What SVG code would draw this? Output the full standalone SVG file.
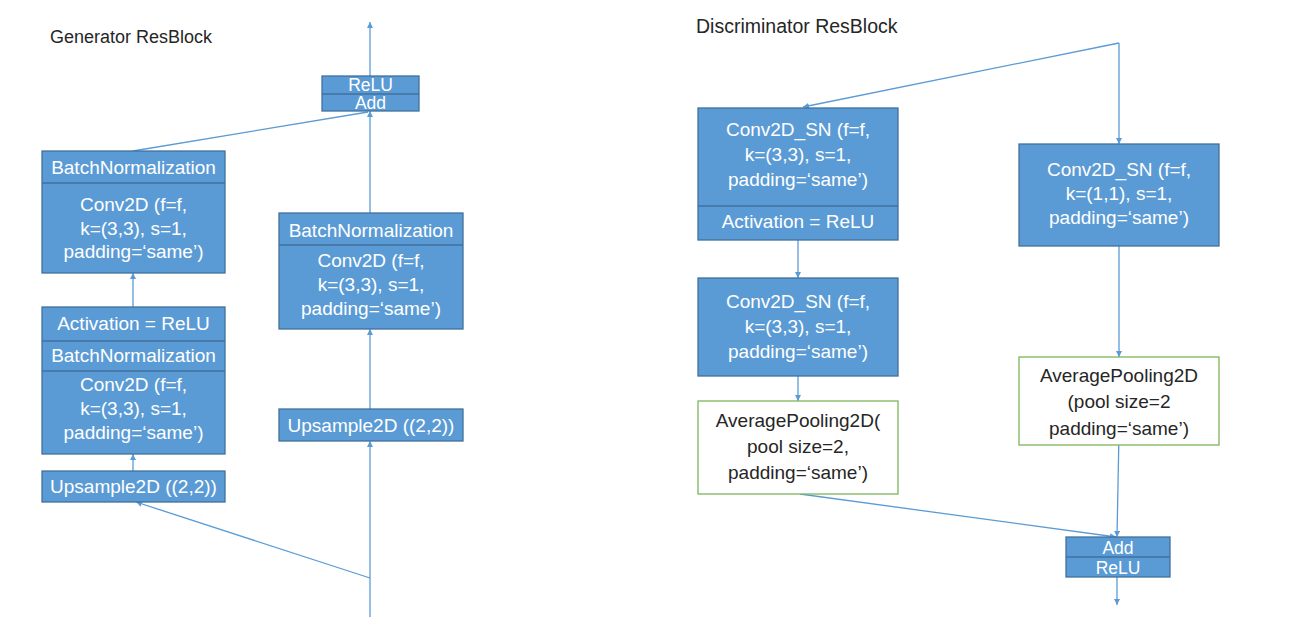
<svg xmlns="http://www.w3.org/2000/svg" width="1296" height="636" viewBox="0 0 1296 636">
<style>
  .box { fill: #5B9BD5; stroke: #41719C; stroke-width: 1.3; }
  .pool { fill: #FFFFFF; stroke: #7DB65A; stroke-width: 1.3; }
  .div { stroke: #41719C; stroke-width: 1.3; }
  .t { font-family: "Liberation Sans", Arial, sans-serif; font-size: 19px; fill: #FFFFFF; text-anchor: middle; }
  .s { font-family: "Liberation Sans", Arial, sans-serif; font-size: 17.5px; fill: #FFFFFF; text-anchor: middle; }
  .d { font-family: "Liberation Sans", Arial, sans-serif; font-size: 19px; fill: #262626; text-anchor: middle; }
  .title { font-family: "Liberation Sans", Arial, sans-serif; font-size: 18px; fill: #262626; }
  .c { stroke: #5B9BD5; stroke-width: 1.3; fill: none; }
  .ca { stroke: #5B9BD5; stroke-width: 1.3; fill: none; marker-end: url(#ah); }
</style>
<defs>
  <marker id="ah" markerUnits="userSpaceOnUse" markerWidth="7" markerHeight="7" refX="6" refY="3" orient="auto">
    <path d="M0,0 L6,3 L0,6 z" fill="#5B9BD5"/>
  </marker>
</defs>
<rect width="1296" height="636" fill="#FFFFFF"/>

<text class="title" x="50" y="43">Generator ResBlock</text>
<text class="title" x="696" y="33" style="font-size:19.5px">Discriminator ResBlock</text>

<g id="connectors">
  <line class="ca" x1="370" y1="76" x2="370" y2="22"/>
  <line class="ca" x1="370" y1="213" x2="370" y2="111"/>
  <line class="c" x1="133" y1="151" x2="368" y2="112"/>
  <line class="ca" x1="133" y1="307" x2="133" y2="273"/>
  <line class="ca" x1="133" y1="471" x2="133" y2="454"/>
  <line class="ca" x1="370" y1="409" x2="370" y2="329"/>
  <line class="ca" x1="370" y1="617" x2="370" y2="441"/>
  <line class="ca" x1="370" y1="578" x2="136" y2="502"/>

  <line class="ca" x1="1119" y1="43" x2="803" y2="107"/>
  <line class="ca" x1="1119" y1="43" x2="1119" y2="144"/>
  <line class="ca" x1="798" y1="240" x2="798" y2="278"/>
  <line class="ca" x1="798" y1="376" x2="798" y2="401"/>
  <line class="ca" x1="1119" y1="246" x2="1119" y2="357"/>
  <line class="ca" x1="800" y1="494" x2="1116" y2="537"/>
  <line class="ca" x1="1119" y1="432" x2="1117" y2="537"/>
  <line class="ca" x1="1117" y1="577" x2="1117" y2="605"/>
</g>

<g id="g-relu-add">
  <rect class="box" x="322" y="76" width="97" height="35"/>
  <line class="div" x1="322" y1="94" x2="419" y2="94"/>
  <text class="s" x="370.5" y="91">ReLU</text>
  <text class="s" x="370.5" y="109">Add</text>
</g>

<g id="g-bn-conv-left">
  <rect class="box" x="42" y="151" width="183" height="122"/>
  <line class="div" x1="42" y1="183" x2="225" y2="183"/>
  <text class="t" x="133.5" y="174">BatchNormalization</text>
  <text class="t" x="133.5" y="211">Conv2D (f=f,</text>
  <text class="t" x="133.5" y="235">k=(3,3), s=1,</text>
  <text class="t" x="133.5" y="258">padding=‘same’)</text>
</g>

<g id="g-act-bn-conv">
  <rect class="box" x="42" y="307" width="183" height="147"/>
  <line class="div" x1="42" y1="341" x2="225" y2="341"/>
  <line class="div" x1="42" y1="371" x2="225" y2="371"/>
  <text class="t" x="133.5" y="330">Activation = ReLU</text>
  <text class="t" x="133.5" y="362">BatchNormalization</text>
  <text class="t" x="133.5" y="391">Conv2D (f=f,</text>
  <text class="t" x="133.5" y="415">k=(3,3), s=1,</text>
  <text class="t" x="133.5" y="439">padding=‘same’)</text>
</g>

<g id="g-upsample-left">
  <rect class="box" x="42" y="471" width="183" height="31"/>
  <text class="t" x="133.5" y="493">Upsample2D ((2,2))</text>
</g>

<g id="g-bn-conv-right">
  <rect class="box" x="279" y="213" width="184" height="116"/>
  <line class="div" x1="279" y1="245" x2="463" y2="245"/>
  <text class="t" x="371" y="237">BatchNormalization</text>
  <text class="t" x="371" y="267">Conv2D (f=f,</text>
  <text class="t" x="371" y="291">k=(3,3), s=1,</text>
  <text class="t" x="371" y="315">padding=‘same’)</text>
</g>

<g id="g-upsample-right">
  <rect class="box" x="279" y="409" width="184" height="32"/>
  <text class="t" x="371" y="432">Upsample2D ((2,2))</text>
</g>

<g id="d-conv-act">
  <rect class="box" x="698" y="108" width="200" height="132"/>
  <line class="div" x1="698" y1="206" x2="898" y2="206"/>
  <text class="t" x="798" y="136">Conv2D_SN (f=f,</text>
  <text class="t" x="798" y="161">k=(3,3), s=1,</text>
  <text class="t" x="798" y="186">padding=‘same’)</text>
  <text class="t" x="798" y="228">Activation = ReLU</text>
</g>

<g id="d-conv2">
  <rect class="box" x="698" y="278" width="200" height="98"/>
  <text class="t" x="798" y="308">Conv2D_SN (f=f,</text>
  <text class="t" x="798" y="333">k=(3,3), s=1,</text>
  <text class="t" x="798" y="358">padding=‘same’)</text>
</g>

<g id="d-pool-left">
  <rect class="pool" x="698" y="401" width="200" height="93"/>
  <text class="d" x="798" y="427">AveragePooling2D(</text>
  <text class="d" x="798" y="453">pool size=2,</text>
  <text class="d" x="798" y="479">padding=‘same’)</text>
</g>

<g id="d-conv-right">
  <rect class="box" x="1019" y="144" width="200" height="102"/>
  <text class="t" x="1119" y="176">Conv2D_SN (f=f,</text>
  <text class="t" x="1119" y="200">k=(1,1), s=1,</text>
  <text class="t" x="1119" y="224">padding=‘same’)</text>
</g>

<g id="d-pool-right">
  <rect class="pool" x="1019" y="357" width="200" height="88"/>
  <text class="d" x="1119" y="382">AveragePooling2D</text>
  <text class="d" x="1119" y="408">(pool size=2</text>
  <text class="d" x="1119" y="435">padding=‘same’)</text>
</g>

<g id="d-add-relu">
  <rect class="box" x="1066" y="537" width="104" height="40"/>
  <line class="div" x1="1066" y1="557" x2="1170" y2="557"/>
  <text class="s" x="1118" y="554">Add</text>
  <text class="s" x="1118" y="574">ReLU</text>
</g>
</svg>
